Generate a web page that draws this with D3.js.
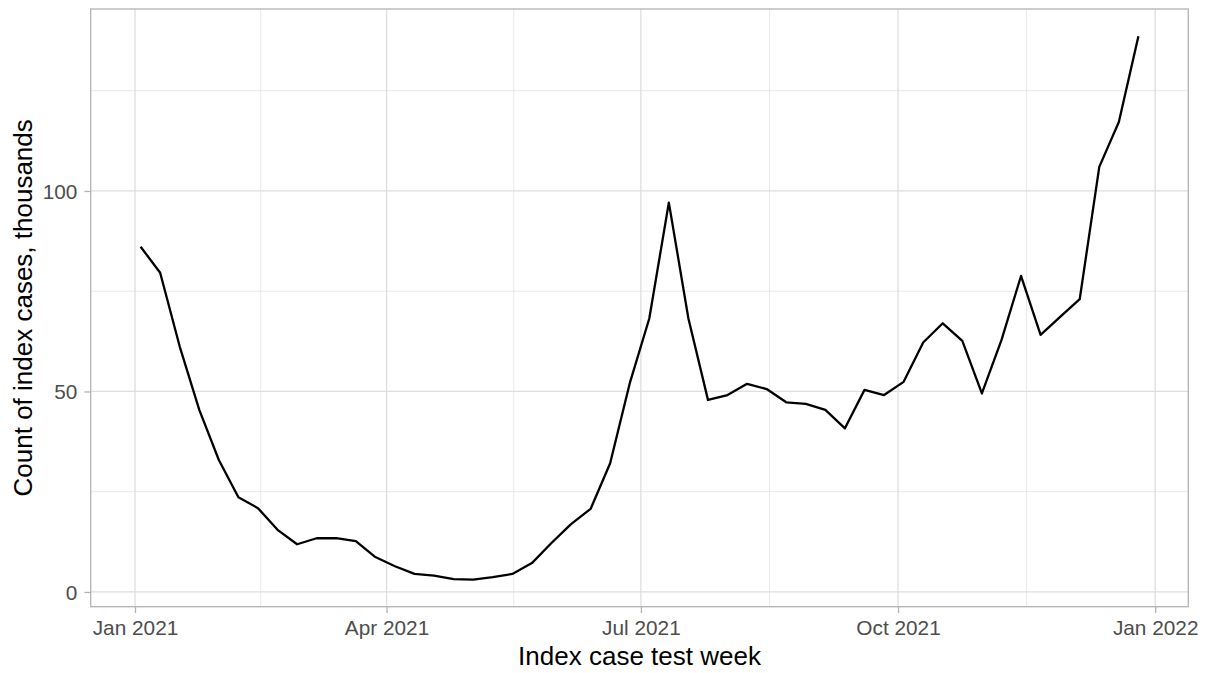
<!DOCTYPE html>
<html>
<head>
<meta charset="utf-8">
<script src="https://cdn.jsdelivr.net/npm/d3@7"></script>
<style>
  body { margin: 0; background: #fff; }
  svg { display: block; }
  text { font-family: "Liberation Sans", Arial, Helvetica, sans-serif; }
</style>
</head>
<body>
<div id="chart"></div>
<script>
// data: weekly index case counts (thousands), weeks starting 3 Jan 2021
var week_start = "2021-01-03";
var counts = [
    86.1, 79.6, 61.2, 45.4, 32.9, 23.6, 20.9, 15.5, 11.9, 13.4,
    13.4, 12.7, 8.7, 6.4, 4.5, 4.1, 3.2, 3.1, 3.7, 4.5,
    7.2, 12.2, 16.9, 20.7, 32.1, 52.0, 68.2, 97.1, 68.2, 47.9,
    49.1, 51.9, 50.6, 47.3, 46.9, 45.4, 40.8, 50.4, 49.1, 52.4,
    62.2, 67.0, 62.6, 49.5, 62.8, 78.8, 64.1, 68.6, 73.0, 106.0,
    117.2, 138.6
];
var x_breaks = ["2021-01-01", "2021-04-01", "2021-07-01", "2021-10-01", "2022-01-01"];
var y_breaks = [0, 50, 100];
var x_title = "Index case test week";
var y_title = "Count of index cases, thousands";

var width = 1207, height = 673;
var panel = {left: 90.7, right: 1188.3, top: 9, bottom: 606.7};

var parse = d3.utcParse("%Y-%m-%d");
var start = parse(week_start);
var data = counts.map(function(v, i) {
    return {date: d3.utcDay.offset(start, 7 * i), value: v};
});

// ggplot style 5% expansion
function expand(ext) {
    var pad = (ext[1] - ext[0]) * 0.05;
    return [ext[0] - pad, ext[1] + pad];
}

var t_ext = d3.extent(data, d => +d.date);
var x = d3.scaleUtc()
    .domain(expand(t_ext).map(t => new Date(t)))
    .range([panel.left, panel.right]);
var y = d3.scaleLinear()
    .domain(expand(d3.extent(data, d => d.value)))
    .range([panel.bottom, panel.top]);

var x_major = x_breaks.map(parse);
var x_minor = [];
for (var i = 0; i < x_major.length - 1; i++) {
    x_minor.push(new Date((+x_major[i] + +x_major[i + 1]) / 2));
}
var y_minor = [];
for (var j = 0; j < y_breaks.length; j++) {
    var m = y_breaks[j] + 25;
    if (m < y.domain()[1]) y_minor.push(m);
}

var svg = d3.select("#chart").append("svg")
    .attr("width", width)
    .attr("height", height);

var g_grid = svg.append("g");

// minor grid
g_grid.selectAll(".xminor").data(x_minor).join("line")
    .attr("x1", d => x(d)).attr("x2", d => x(d))
    .attr("y1", panel.top).attr("y2", panel.bottom)
    .attr("stroke", "#dedede").attr("stroke-width", 0.7);
g_grid.selectAll(".yminor").data(y_minor).join("line")
    .attr("x1", panel.left).attr("x2", panel.right)
    .attr("y1", d => y(d)).attr("y2", d => y(d))
    .attr("stroke", "#dedede").attr("stroke-width", 0.7);

// major grid
g_grid.selectAll(".xmajor").data(x_major).join("line")
    .attr("x1", d => x(d)).attr("x2", d => x(d))
    .attr("y1", panel.top).attr("y2", panel.bottom)
    .attr("stroke", "#dedede").attr("stroke-width", 1.3);
g_grid.selectAll(".ymajor").data(y_breaks).join("line")
    .attr("x1", panel.left).attr("x2", panel.right)
    .attr("y1", d => y(d)).attr("y2", d => y(d))
    .attr("stroke", "#dedede").attr("stroke-width", 1.3);

// the series
var line = d3.line()
    .x(d => x(d.date))
    .y(d => y(d.value));
svg.append("path")
    .datum(data)
    .attr("d", line)
    .attr("fill", "none")
    .attr("stroke", "#000")
    .attr("stroke-width", 2.3)
    .attr("stroke-linejoin", "round");

// panel border
svg.append("rect")
    .attr("x", panel.left).attr("y", panel.top)
    .attr("width", panel.right - panel.left)
    .attr("height", panel.bottom - panel.top)
    .attr("fill", "none")
    .attr("stroke", "#b3b3b3")
    .attr("stroke-width", 1.3);

// axes
var fmt = d3.utcFormat("%b %Y");
var x_axis = svg.append("g")
    .attr("transform", "translate(0," + panel.bottom + ")")
    .call(d3.axisBottom(x).tickValues(x_major).tickFormat(fmt).tickSize(6.3).tickPadding(6));
var y_axis = svg.append("g")
    .attr("transform", "translate(" + panel.left + ",0)")
    .call(d3.axisLeft(y).tickValues(y_breaks).tickSize(6.3).tickPadding(7));

[x_axis, y_axis].forEach(function(ax) {
    ax.select(".domain").remove();
    ax.selectAll(".tick line").attr("stroke", "#b3b3b3").attr("stroke-width", 1.3);
    ax.selectAll(".tick text")
        .attr("fill", "#4d4d4d")
        .style("font-size", "20.8px")
        .style("font-family", "'Liberation Sans', Arial, sans-serif");
});
x_axis.selectAll(".tick text").attr("dy", null).attr("y", 28.3);
y_axis.selectAll(".tick text").attr("dy", "0.36em");

// titles
svg.append("text")
    .attr("x", (panel.left + panel.right) / 2)
    .attr("y", 665)
    .attr("text-anchor", "middle")
    .style("font-size", "26px")
    .attr("fill", "#000")
    .text(x_title);

svg.append("text")
    .attr("transform", "translate(31.7," + ((panel.top + panel.bottom) / 2) + ") rotate(-90)")
    .attr("text-anchor", "middle")
    .style("font-size", "26px")
    .attr("fill", "#000")
    .text(y_title);
</script>
</body>
</html>
